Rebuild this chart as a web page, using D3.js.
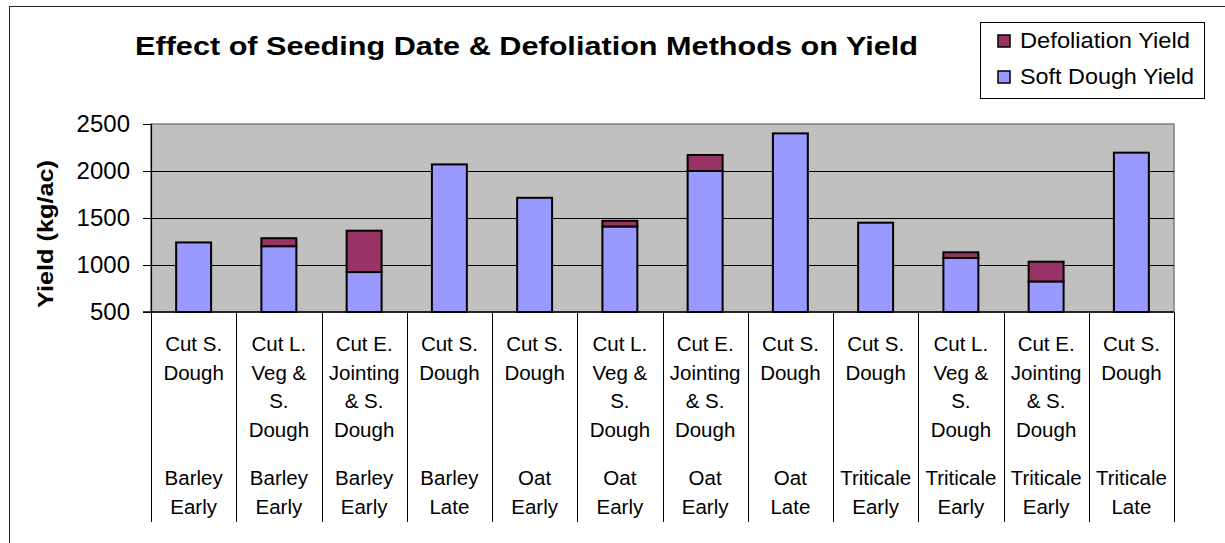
<!DOCTYPE html>
<html lang="en">
<head>
    <meta charset="UTF-8">
    <title>Effect of Seeding Date & Defoliation Methods on Yield</title>
    <script src="https://d3js.org/d3.v7.min.js"></script>
    <style>
        body {
            margin: 0;
            background: #fff;
            font-family: "Liberation Sans", Arial, sans-serif;
        }
        svg text {
            fill: #000;
        }
    </style>
</head>
<body>
    <svg width="1225" height="543"></svg>
    <script>
        // category labels: method (upper block) and crop + seeding date (lower block)
        const methods = [
            ["Cut S.", "Dough"],
            ["Cut L.", "Veg &", "S.", "Dough"],
            ["Cut E.", "Jointing", "& S.", "Dough"],
            ["Cut S.", "Dough"],
            ["Cut S.", "Dough"],
            ["Cut L.", "Veg &", "S.", "Dough"],
            ["Cut E.", "Jointing", "& S.", "Dough"],
            ["Cut S.", "Dough"],
            ["Cut S.", "Dough"],
            ["Cut L.", "Veg &", "S.", "Dough"],
            ["Cut E.", "Jointing", "& S.", "Dough"],
            ["Cut S.", "Dough"]
        ];
        const crops = [
            ["Barley", "Early"], ["Barley", "Early"], ["Barley", "Early"], ["Barley", "Late"],
            ["Oat", "Early"], ["Oat", "Early"], ["Oat", "Early"], ["Oat", "Late"],
            ["Triticale", "Early"], ["Triticale", "Early"], ["Triticale", "Early"], ["Triticale", "Late"]
        ];

        // series values (kg/ac)
        const softDoughYield = [1240, 1200, 925, 2070, 1715, 1410, 2000, 2400, 1450, 1075, 825, 2195];
        const defoliationYield = [0, 85, 440, 0, 0, 60, 170, 0, 0, 60, 210, 0];

        const yTicks = [500, 1000, 1500, 2000, 2500];
        const seriesNames = ["Defoliation Yield", "Soft Dough Yield"];
        const colors = { soft: "#9999FF", defol: "#993366" };

        const plot = { left: 151, right: 1174, top: 124, bottom: 312 };
        const svg = d3.select("svg");

        // outer chart border
        svg.append("rect")
            .attr("x", 9.5).attr("y", 6.5)
            .attr("width", 1230).attr("height", 600)
            .attr("fill", "none")
            .attr("stroke", "#222")
            .attr("stroke-width", 1);

        const idx = d3.range(softDoughYield.length);
        const xCat = d3.scaleBand().domain(idx).range([plot.left, plot.right]);
        const xBar = d3.scaleBand().domain(idx).range([plot.left, plot.right])
            .paddingInner(0.59).paddingOuter(0.295);
        const y = d3.scaleLinear().domain([500, 2500]).range([plot.bottom, plot.top]);

        // plot background
        svg.append("rect")
            .attr("x", plot.left).attr("y", plot.top)
            .attr("width", plot.right - plot.left).attr("height", plot.bottom - plot.top)
            .attr("fill", "#C0C0C0")
            .attr("stroke", "#808080")
            .attr("stroke-width", 1.5);

        // gridlines
        svg.append("g").selectAll("line")
            .data(yTicks.slice(1, -1))
            .join("line")
            .attr("x1", plot.left).attr("x2", plot.right)
            .attr("y1", d => Math.round(y(d)) + 0.5).attr("y2", d => Math.round(y(d)) + 0.5)
            .attr("stroke", "#000").attr("stroke-width", 1);

        // y axis
        const yAxis = svg.append("g")
            .attr("transform", "translate(" + plot.left + ",0)")
            .call(d3.axisLeft(y).tickValues(yTicks).tickSize(8).tickPadding(13).tickFormat(d3.format("d")));
        yAxis.select(".domain").attr("stroke", "#000").attr("stroke-width", 1.2);
        yAxis.selectAll(".tick line").attr("stroke", "#000");
        yAxis.selectAll(".tick text")
            .attr("font-family", "'Liberation Sans', Arial, sans-serif")
            .attr("font-size", 24);

        // bars
        const bars = svg.append("g");
        bars.selectAll(".soft")
            .data(idx)
            .join("rect")
            .attr("class", "soft")
            .attr("x", i => xBar(i))
            .attr("y", i => y(softDoughYield[i]))
            .attr("width", xBar.bandwidth())
            .attr("height", i => y(500) - y(softDoughYield[i]))
            .attr("fill", colors.soft)
            .attr("stroke", "#000").attr("stroke-width", 2);
        bars.selectAll(".defol")
            .data(idx.filter(i => defoliationYield[i] > 0))
            .join("rect")
            .attr("class", "defol")
            .attr("x", i => xBar(i))
            .attr("y", i => y(softDoughYield[i] + defoliationYield[i]))
            .attr("width", xBar.bandwidth())
            .attr("height", i => y(softDoughYield[i]) - y(softDoughYield[i] + defoliationYield[i]))
            .attr("fill", colors.defol)
            .attr("stroke", "#000").attr("stroke-width", 2);

        // x axis line and category separators
        svg.append("line")
            .attr("x1", plot.left - 8).attr("x2", plot.right)
            .attr("y1", plot.bottom).attr("y2", plot.bottom)
            .attr("stroke", "#000").attr("stroke-width", 1.5);
        svg.append("g").selectAll("line")
            .data(idx.concat([idx.length]))
            .join("line")
            .attr("x1", i => Math.round(i < idx.length ? xCat(i) : plot.right) + 0.5)
            .attr("x2", i => Math.round(i < idx.length ? xCat(i) : plot.right) + 0.5)
            .attr("y1", plot.bottom).attr("y2", 522)
            .attr("stroke", "#000").attr("stroke-width", 1);

        // category labels
        const lineGap = 28.6;
        const labels = svg.append("g")
            .attr("font-size", 20.5)
            .attr("text-anchor", "middle");
        idx.forEach(i => {
            const cx = xCat(i) + xCat.bandwidth() / 2;
            methods[i].forEach((t, k) => {
                labels.append("text").attr("x", cx).attr("y", 351 + k * lineGap).text(t);
            });
            crops[i].forEach((t, k) => {
                labels.append("text").attr("x", cx).attr("y", 485 + k * lineGap).text(t);
            });
        });

        // y axis title
        svg.append("text")
            .attr("transform", "translate(53,234) rotate(-90)")
            .attr("text-anchor", "middle")
            .attr("font-size", 22.5)
            .attr("font-weight", "bold")
            .attr("textLength", 148)
            .attr("lengthAdjust", "spacingAndGlyphs")
            .text("Yield (kg/ac)");

        // chart title
        svg.append("text")
            .attr("x", 526.5).attr("y", 55)
            .attr("text-anchor", "middle")
            .attr("font-size", 26.5)
            .attr("font-weight", "bold")
            .attr("textLength", 783)
            .attr("lengthAdjust", "spacingAndGlyphs")
            .text("Effect of Seeding Date & Defoliation Methods on Yield");

        // legend
        const legend = svg.append("g");
        legend.append("rect")
            .attr("x", 980.5).attr("y", 22.5)
            .attr("width", 224).attr("height", 76)
            .attr("fill", "#fff").attr("stroke", "#000").attr("stroke-width", 1);
        const legendColors = [colors.defol, colors.soft];
        const legendWidths = [170, 174];
        seriesNames.forEach((name, k) => {
            const ly = 48 + k * 36;
            legend.append("rect")
                .attr("x", 998).attr("y", ly - 13)
                .attr("width", 12).attr("height", 12)
                .attr("fill", legendColors[k])
                .attr("stroke", "#000").attr("stroke-width", 1.5);
            legend.append("text")
                .attr("x", 1020).attr("y", ly)
                .attr("font-size", 21.5)
                .attr("textLength", legendWidths[k])
                .attr("lengthAdjust", "spacingAndGlyphs")
                .text(name);
        });
    </script>
</body>
</html>
